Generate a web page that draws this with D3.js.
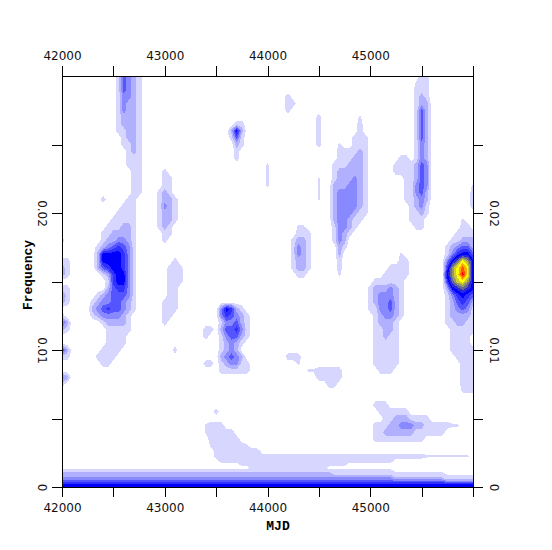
<!DOCTYPE html>
<html><head><meta charset="utf-8">
<script src="https://cdn.jsdelivr.net/npm/d3@7"></script>
<style>html,body{margin:0;padding:0;background:#fff}svg{display:block}
.tk text{font-family:"DejaVu Sans",sans-serif;font-size:12px;fill:#111}
.ttl{font-family:"Liberation Mono",monospace;font-weight:bold;font-size:13px;fill:#000}</style>
</head><body><div id="c"></div>
<script>
// Spectrogram. Frequency rows and MJD columns of the power grid.
const columnMjd = d3.range(42000, 46001, 50);
const freqRows = [...d3.range(300, 29, -5).map(v => v / 10000), 0.00265, 0.00223, 0.0019, 0.00165, 0.0014, 0.0012, 0.001, 0.0008, 0.0006, 0.0004, 0.0002, 0];
// Each entry: [frequency, first column, power level per 50 MJD]. x = just above the lowest contour.
const plume42500 = [[.03,11,"14321"],[.0295,11,"14321"],[.029,11,"14321"],[.0285,11,"13321"],[.028,11,"13221"],[.0275,11,"13221"],[.027,11,"12221"],[.0265,11,"12221"],[.026,11,"11221"],[.0255,12,"1221"],[.025,12,"1121"],[.0245,13,"121"],[.024,13,"111"],[.0235,13,"111"],[.023,14,"11"],[.0225,14,"11"],[.022,14,"11"],[.0215,14,"11"],[.021,13,"11"],[.0205,12,"111"],[.02,11,"1111"],[.0195,10,"11111"],[.019,9,"111221"],[.0185,8,"1122221"],[.018,8,"1223321"],[.0175,7,"12345431"],[.017,7,"26666531"],[.0165,7,"26666531"],[.016,7,"24566531"],[.0155,8,"1256631"],[.015,9,"156631"],[.0145,9,"245531"],[.014,7,"12344431"],[.0135,6,"123344321"],[.013,6,"234544321"],[.0125,6,"12333321"],[.012,8,"122221"],[.0115,9,"11111"],[.011,9,"1111"],[.0105,9,"1111"],[.01,8,"1111"],[.0095,7,"1111"],[.009,8,"11"],[.021,8,"1"]];
const ridge43000 = [[.023,20,"1"],[.0225,20,"11"],[.022,20,"11"],[.0215,19,"121"],[.021,19,"1221"],[.0205,19,"1321"],[.02,19,"1221"],[.0195,19,"1221"],[.019,19,"121"],[.0185,20,"11"],[.018,20,"1"]];
const ridge43100 = [[.0165,22,"1"],[.016,21,"111"],[.0155,21,"111"],[.015,21,"111"],[.0145,21,"11"],[.014,21,"11"],[.0135,20,"111"],[.013,20,"111"],[.0125,20,"11"],[.012,20,"1"],[.01,22,"1"]];
const spot43700 = [[.0265,34,"11"],[.026,33,"262"],[.0255,33,"141"],[.025,34,"21"],[.0245,34,"1"],[.024,34,"1"]];
const twin43650 = [[.013,31,"36521"],[.0125,31,"354321"],[.012,31,"133421"],[.0115,31,"244531"],[.011,31,"134421"],[.0105,31,"12321"],[.01,31,"1232"],[.0095,31,"23432"],[.009,31,"123311"],[.0085,31,"111111"]];
const specks = [[.0115,28,"11"],[.011,28,"1"],[.009,28,"11"],[.0055,30,"1"],[.0285,44,"1"],[.028,44,"11"],[.0275,44,"1"]];
const slivers = [[.027,50,"1"],[.0265,50,"1"],[.026,50,"1"],[.0255,50,"1"],[.025,50,"1"],[.0235,40,"x"],[.023,40,"x"],[.0225,40,"x"],[.022,40,"x"],[.0225,50,"x"],[.022,50,"x"],[.0215,50,"x"],[.021,50,"x"],[.022,80,"x"],[.0215,80,"1"],[.021,80,"1"],[.0205,80,"1"]];
const leftEdge = [[.018,0,"1"],[.0165,0,"11"],[.016,0,"21"],[.0155,0,"21"],[.0145,0,"11"],[.014,0,"31"],[.0135,0,"21"],[.0125,0,"1"],[.012,0,"42"],[.0115,0,"21"],[.01,0,"52"],[.0095,0,"11"],[.008,0,"32"],[.0075,0,"1"]];
const blob44300 = [[.019,46,"xx"],[.0185,46,"111"],[.018,45,"1221"],[.0175,45,"1321"],[.017,45,"1321"],[.0165,45,"1221"],[.016,45,"1221"],[.0155,46,"11"]];
const ridge44800 = [[.027,58,"x"],[.0265,58,"1"],[.026,58,"1"],[.0255,57,"111"],[.025,54,"x"],[.025,57,"111"],[.0245,54,"11112"],[.0245,59,"1"],[.024,54,"111221"],[.0235,53,"1112221"],[.023,53,"1222221"],[.0225,53,"1222321"],[.022,53,"2223321"],[.0215,53,"2333321"],[.021,53,"2333321"],[.0205,53,"2333321"],[.02,53,"2333211"],[.0195,53,"233211"],[.019,53,"13321"],[.0185,53,"1321"],[.018,53,"132"],[.0175,54,"21"],[.017,54,"2"],[.0165,54,"1"],[.016,54,"1"],[.0155,54,"x"]];
const ridge45450 = [[.03,70,"11"],[.0295,69,"x11"],[.029,69,"111"],[.0285,69,"121"],[.028,69,"122"],[.0275,69,"142"],[.027,69,"142"],[.0265,69,"142"],[.026,69,"142"],[.0255,69,"142"],[.025,69,"132"],[.0245,69,"132"],[.024,69,"132"],[.024,66,"11"],[.0235,65,"1111243"],[.023,65,"1111243"],[.0225,67,"11243"],[.022,67,"11343"],[.0215,67,"11342"],[.021,67,"11232"],[.0205,68,"1231"],[.02,68,"1121"],[.0195,68,"111"],[.019,69,"11"]];
const hotspot45800 = [[.0195,78,"x"],[.019,78,"11"],[.0185,77,"1111"],[.018,76,"11222"],[.0175,75,"123442"],[.017,75,"135664"],[.0165,75,"368b96"],[.016,75,"59bdb6"],[.0155,75,"69beb6"],[.015,75,"58ab96"],[.0145,75,"267876"],[.014,75,"135654"],[.0135,75,"124542"],[.013,75,"123431"],[.0125,75,"122221"],[.012,75,"112211"],[.0115,76,"11111"],[.011,76,"1111"],[.0105,76,"1111"],[.01,76,"11111"],[.0095,77,"1111"],[.009,78,"111"],[.0085,78,"111"],[.008,78,"111"],[.0075,78,"111"],[.007,78,"xxx"]];
const ridge45200 = [[.017,66,"x"],[.0165,66,"11"],[.016,64,"1111"],[.0155,63,"11111"],[.015,61,"111111"],[.0145,60,"1222321"],[.014,60,"1233321"],[.0135,60,"1233421"],[.013,60,"1133421"],[.0125,61,"123321"],[.012,61,"12221"],[.0115,61,"11221"],[.011,61,"11211"],[.0105,61,"11111"],[.01,61,"11111"],[.0095,61,"11111"],[.009,61,"11111"],[.0085,62,"111"]];
const patch45300 = [[.006,61,"111"],[.0055,62,"111111"],[.005,63,"112221111"],[.0045,61,"111223332211111xx"],[.004,61,"11222222111111"],[.0035,61,"1111111111"]];
const patch44300 = [[.0095,44,"111"],[.009,46,"x"]];
const patch44500 = [[.0085,48,"xx11111"],[.008,50,"11111"],[.0075,52,"11"]];
const shelf43700 = [[.0045,28,"x111"],[.004,28,"x11111"],[.0035,29,"111111"],[.003,29,"x111111x"]];
// Runs of equal level: [frequency, first column, last column, level].
const lowBandRuns = [[.00265,30,38,1],[.00223,30,70,1],[.00223,71,79,.65],[.0019,31,64,1],[.00165,35,55,1],[.0014,37,51,1],
 [.0012,0,64,1],[.001,0,52,2],[.001,53,74,1],[.0008,0,64,2],[.0008,65,80,1],[.0006,0,64,3],[.0006,65,74,2],[.0006,75,80,1],[.0004,0,74,4],[.0004,75,80,3],[.0002,0,80,6],[0,0,80,6]];
const levelColors = ["#d6d6ff","#b0b0ff","#8888ff","#5555ff","#3030ff","#0000ff","#2a2ad4","#666699","#999966","#cccc33","#ffff00","#ffaa00","#ff5500","#ff0000"];
const xTicks = d3.range(42000, 46001, 500), xLabelled = [42000, 43000, 44000, 45000];
const yTicks = [0, 0.005, 0.01, 0.015, 0.02, 0.025], yLabels = {0: "0", 0.01: "0.01", 0.02: "0.02"};

const nc = columnMjd.length, nr = freqRows.length, grid = new Float64Array(nc * nr);
const rowOf = f => d3.leastIndex(freqRows, (a, b) => Math.abs(a - f) - Math.abs(b - f));
const put = (r, c, v) => { grid[r * nc + c] = Math.max(grid[r * nc + c], v); };
[plume42500, ridge43000, ridge43100, spot43700, twin43650, specks, slivers, leftEdge, blob44300, ridge44800, ridge45450, hotspot45800, ridge45200, patch45300, patch44300, patch44500, shelf43700]
 .forEach(list => list.forEach(([f, c, s]) => [...s].forEach((ch, i) => put(rowOf(f), c + i, ch === "x" ? 0.65 : parseInt(ch, 16)))));
lowBandRuns.forEach(([f, a, b, v]) => { for (let c = a; c <= b; c++) put(rowOf(f), c, v); });

const width = 552, height = 550, L = 62, R = 473, T = 76, B = 487;
const x = d3.scaleLinear().domain([42000, 46000]).range([L, R]);
const y = d3.scaleLinear().domain([0, 0.03]).range([B, T]);
const colX = d3.scaleLinear().domain(d3.range(nc)).range(columnMjd.map(x)).clamp(true);
const rowY = d3.scaleLinear().domain(d3.range(nr)).range(freqRows.map(y)).clamp(true);
const path = d3.geoPath(d3.geoTransform({ point(a, b) { this.stream.point(colX(a - 0.5), rowY(b - 0.5)); } }));

const svg = d3.select("#c").append("svg").attr("width", width).attr("height", height);
svg.append("clipPath").attr("id", "plot").append("rect").attr("x", L).attr("y", T).attr("width", R - L).attr("height", B - T);
const thresholds = levelColors.map((_, i) => i + 0.5);
svg.append("g").attr("clip-path", "url(#plot)").selectAll("path")
  .data(d3.contours().size([nc, nr]).thresholds(thresholds)(Array.from(grid)))
  .join("path").attr("d", path).attr("fill", (d, i) => levelColors[i]).attr("shape-rendering", "crispEdges");

const xf = d => xLabelled.includes(d) ? d3.format("d")(d) : "";
const yf = d => yLabels[d] ?? "";
const style = g => { g.attr("class", "tk"); g.select(".domain").remove(); g.selectAll("line").attr("stroke", "#000").attr("shape-rendering", "crispEdges"); };
svg.append("g").attr("transform", `translate(0,${B})`).call(d3.axisBottom(x).tickValues(xTicks).tickFormat(xf).tickSize(10).tickPadding(6)).call(style);
svg.append("g").attr("transform", `translate(0,${T})`).call(d3.axisTop(x).tickValues(xTicks).tickFormat(xf).tickSize(10).tickPadding(6)).call(style);
svg.append("g").attr("transform", `translate(${L},0)`).call(d3.axisLeft(y).tickValues(yTicks).tickFormat(yf).tickSize(10)).call(style)
  .selectAll("text").attr("x", 0).attr("dy", 0).attr("text-anchor", "middle").attr("transform", "translate(-20,0) rotate(90) translate(0,4)");
svg.append("g").attr("transform", `translate(${R},0)`).call(d3.axisRight(y).tickValues(yTicks).tickFormat(yf).tickSize(10)).call(style)
  .selectAll("text").attr("x", 0).attr("dy", 0).attr("text-anchor", "middle").attr("transform", "translate(21,0) rotate(90) translate(0,4)");
svg.append("rect").attr("x", L).attr("y", T).attr("width", R - L).attr("height", B - T).attr("fill", "none").attr("stroke", "#000").attr("shape-rendering", "crispEdges");
svg.append("text").attr("class", "ttl").attr("x", 278).attr("y", 530).attr("text-anchor", "middle").text("MJD");
svg.append("text").attr("class", "ttl").attr("text-anchor", "middle").attr("transform", "translate(32,275) rotate(-90)").text("Frequency");
</script></body></html>
